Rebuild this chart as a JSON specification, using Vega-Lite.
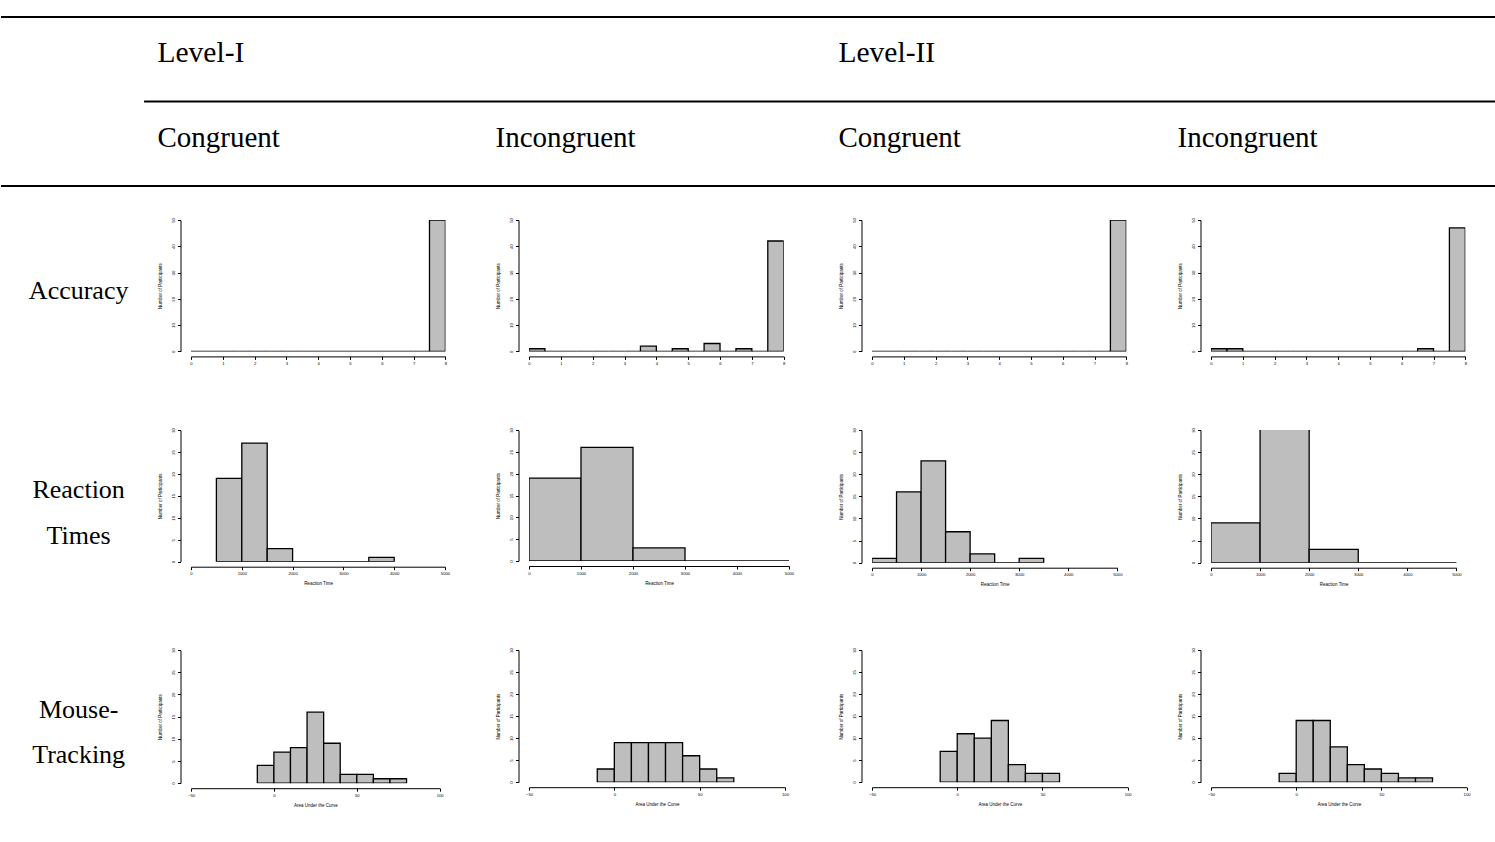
{
  "$schema": "https://vega.github.io/schema/vega-lite/v6.json",
  "background": "white",
  "padding": {"left": 0, "top": 16, "right": 0, "bottom": 0},
  "autosize": {"type": "pad"},
  "columns": 5,
  "bounds": "flush",
  "spacing": {"row": 0, "column": 83},
  "config": {
    "view": {"stroke": null},
    "axis": {"grid": false, "domainColor": "black", "tickColor": "black", "labelColor": "black", "titleColor": "black", "labelFont": "Liberation Sans", "titleFont": "Liberation Sans", "labelFontSize": 4.2, "titleFontSize": 4.5, "titleFontWeight": "normal", "tickSize": 3, "domainWidth": 1, "tickWidth": 1, "labelFlush": false, "labelOverlap": false},
    "axisX": {"offset": 5, "labelPadding": 2, "titlePadding": 5, "labelAngle": 0},
    "axisY": {"offset": 10.5, "labelAngle": 270, "labelAlign": "center", "labelBaseline": "bottom", "labelPadding": 2, "titlePadding": 9}
  },
  "datasets": {
    "acc_l1_con": [
      {"from": 0, "to": 0.5, "count": 0}, {"from": 0.5, "to": 1, "count": 0}, {"from": 1, "to": 1.5, "count": 0}, {"from": 1.5, "to": 2, "count": 0},
      {"from": 2, "to": 2.5, "count": 0}, {"from": 2.5, "to": 3, "count": 0}, {"from": 3, "to": 3.5, "count": 0}, {"from": 3.5, "to": 4, "count": 0},
      {"from": 4, "to": 4.5, "count": 0}, {"from": 4.5, "to": 5, "count": 0}, {"from": 5, "to": 5.5, "count": 0}, {"from": 5.5, "to": 6, "count": 0},
      {"from": 6, "to": 6.5, "count": 0}, {"from": 6.5, "to": 7, "count": 0}, {"from": 7, "to": 7.5, "count": 0}, {"from": 7.5, "to": 8, "count": 50}
    ],
    "acc_l1_inc": [
      {"from": 0, "to": 0.5, "count": 1}, {"from": 0.5, "to": 1, "count": 0}, {"from": 1, "to": 1.5, "count": 0}, {"from": 1.5, "to": 2, "count": 0},
      {"from": 2, "to": 2.5, "count": 0}, {"from": 2.5, "to": 3, "count": 0}, {"from": 3, "to": 3.5, "count": 0}, {"from": 3.5, "to": 4, "count": 2},
      {"from": 4, "to": 4.5, "count": 0}, {"from": 4.5, "to": 5, "count": 1}, {"from": 5, "to": 5.5, "count": 0}, {"from": 5.5, "to": 6, "count": 3},
      {"from": 6, "to": 6.5, "count": 0}, {"from": 6.5, "to": 7, "count": 1}, {"from": 7, "to": 7.5, "count": 0}, {"from": 7.5, "to": 8, "count": 42}
    ],
    "acc_l2_con": [
      {"from": 0, "to": 0.5, "count": 0}, {"from": 0.5, "to": 1, "count": 0}, {"from": 1, "to": 1.5, "count": 0}, {"from": 1.5, "to": 2, "count": 0},
      {"from": 2, "to": 2.5, "count": 0}, {"from": 2.5, "to": 3, "count": 0}, {"from": 3, "to": 3.5, "count": 0}, {"from": 3.5, "to": 4, "count": 0},
      {"from": 4, "to": 4.5, "count": 0}, {"from": 4.5, "to": 5, "count": 0}, {"from": 5, "to": 5.5, "count": 0}, {"from": 5.5, "to": 6, "count": 0},
      {"from": 6, "to": 6.5, "count": 0}, {"from": 6.5, "to": 7, "count": 0}, {"from": 7, "to": 7.5, "count": 0}, {"from": 7.5, "to": 8, "count": 50}
    ],
    "acc_l2_inc": [
      {"from": 0, "to": 0.5, "count": 1}, {"from": 0.5, "to": 1, "count": 1}, {"from": 1, "to": 1.5, "count": 0}, {"from": 1.5, "to": 2, "count": 0},
      {"from": 2, "to": 2.5, "count": 0}, {"from": 2.5, "to": 3, "count": 0}, {"from": 3, "to": 3.5, "count": 0}, {"from": 3.5, "to": 4, "count": 0},
      {"from": 4, "to": 4.5, "count": 0}, {"from": 4.5, "to": 5, "count": 0}, {"from": 5, "to": 5.5, "count": 0}, {"from": 5.5, "to": 6, "count": 0},
      {"from": 6, "to": 6.5, "count": 0}, {"from": 6.5, "to": 7, "count": 1}, {"from": 7, "to": 7.5, "count": 0}, {"from": 7.5, "to": 8, "count": 47}
    ],
    "rt_l1_con": [
      {"from": 500, "to": 1000, "count": 19}, {"from": 1000, "to": 1500, "count": 27}, {"from": 1500, "to": 2000, "count": 3},
      {"from": 2000, "to": 2500, "count": 0}, {"from": 2500, "to": 3000, "count": 0}, {"from": 3000, "to": 3500, "count": 0}, {"from": 3500, "to": 4000, "count": 1}
    ],
    "rt_l1_inc": [
      {"from": 0, "to": 1000, "count": 19}, {"from": 1000, "to": 2000, "count": 26}, {"from": 2000, "to": 3000, "count": 3},
      {"from": 3000, "to": 4000, "count": 0}, {"from": 4000, "to": 5000, "count": 0}, {"from": 5000, "to": 6000, "count": 0}
    ],
    "rt_l2_con": [
      {"from": 0, "to": 500, "count": 1}, {"from": 500, "to": 1000, "count": 16}, {"from": 1000, "to": 1500, "count": 23},
      {"from": 1500, "to": 2000, "count": 7}, {"from": 2000, "to": 2500, "count": 2}, {"from": 2500, "to": 3000, "count": 0}, {"from": 3000, "to": 3500, "count": 1}
    ],
    "rt_l2_inc": [
      {"from": 0, "to": 1000, "count": 9}, {"from": 1000, "to": 2000, "count": 38}, {"from": 2000, "to": 3000, "count": 3},
      {"from": 3000, "to": 4000, "count": 0}, {"from": 4000, "to": 5000, "count": 0}, {"from": 5000, "to": 6000, "count": 0}
    ],
    "mt_l1_con": [
      {"from": -10, "to": 0, "count": 4}, {"from": 0, "to": 10, "count": 7}, {"from": 10, "to": 20, "count": 8}, {"from": 20, "to": 30, "count": 16},
      {"from": 30, "to": 40, "count": 9}, {"from": 40, "to": 50, "count": 2}, {"from": 50, "to": 60, "count": 2}, {"from": 60, "to": 70, "count": 1}, {"from": 70, "to": 80, "count": 1}
    ],
    "mt_l1_inc": [
      {"from": -10, "to": 0, "count": 3}, {"from": 0, "to": 10, "count": 9}, {"from": 10, "to": 20, "count": 9}, {"from": 20, "to": 30, "count": 9},
      {"from": 30, "to": 40, "count": 9}, {"from": 40, "to": 50, "count": 6}, {"from": 50, "to": 60, "count": 3}, {"from": 60, "to": 70, "count": 1}
    ],
    "mt_l2_con": [
      {"from": -10, "to": 0, "count": 7}, {"from": 0, "to": 10, "count": 11}, {"from": 10, "to": 20, "count": 10}, {"from": 20, "to": 30, "count": 14},
      {"from": 30, "to": 40, "count": 4}, {"from": 40, "to": 50, "count": 2}, {"from": 50, "to": 60, "count": 2}
    ],
    "mt_l2_inc": [
      {"from": -10, "to": 0, "count": 2}, {"from": 0, "to": 10, "count": 14}, {"from": 10, "to": 20, "count": 14}, {"from": 20, "to": 30, "count": 8},
      {"from": 30, "to": 40, "count": 4}, {"from": 40, "to": 50, "count": 3}, {"from": 50, "to": 60, "count": 2}, {"from": 60, "to": 70, "count": 1}, {"from": 70, "to": 80, "count": 1}
    ]
  },
  "concat": [
    {
      "width": 106.3, "height": 84,
      "data": {"values": [{}]},
      "layer": [
        {"mark": {"type": "rule", "stroke": "black", "strokeWidth": 2},
         "encoding": {"x": {"datum": 0, "type": "quantitative", "scale": {"domain": [0, 1], "range": [0, 1495]}, "axis": null}, "x2": {"datum": 1},
                      "y": {"datum": 0, "type": "quantitative", "scale": {"domain": [0, 2], "range": [0, 169]}, "axis": null}}},
        {"mark": {"type": "rule", "stroke": "black", "strokeWidth": 2},
         "encoding": {"x": {"datum": 0.0957, "type": "quantitative"}, "x2": {"datum": 1}, "y": {"datum": 1, "type": "quantitative"}}},
        {"mark": {"type": "rule", "stroke": "black", "strokeWidth": 2},
         "encoding": {"x": {"datum": 0, "type": "quantitative"}, "x2": {"datum": 1}, "y": {"datum": 2, "type": "quantitative"}}}
      ]
    },
    {"width": 1, "height": 1, "data": {"values": [{"label": "Level-I"}]},
     "mark": {"type": "text", "font": "Liberation Serif", "fontSize": 29.5, "align": "left", "baseline": "alphabetic", "dx": -34, "dy": 44},
     "encoding": {"text": {"field": "label"}}},
    {"width": 1, "height": 1, "data": {"values": [{"label": ""}]},
     "mark": {"type": "text", "fontSize": 1},
     "encoding": {"text": {"field": "label"}}},
    {"width": 1, "height": 1, "data": {"values": [{"label": "Level-II"}]},
     "mark": {"type": "text", "font": "Liberation Serif", "fontSize": 29.5, "align": "left", "baseline": "alphabetic", "dx": -34, "dy": 44},
     "encoding": {"text": {"field": "label"}}},
    {"width": 1, "height": 1, "data": {"values": [{"label": ""}]},
     "mark": {"type": "text", "fontSize": 1},
     "encoding": {"text": {"field": "label"}}},

    {"width": 106.3, "height": 118.3, "data": {"values": [{"label": ""}]},
     "mark": {"type": "text", "fontSize": 1},
     "encoding": {"text": {"field": "label"}}},
    {"width": 1, "height": 1, "data": {"values": [{"label": "Congruent"}]},
     "mark": {"type": "text", "font": "Liberation Serif", "fontSize": 29, "align": "left", "baseline": "alphabetic", "dx": -34, "dy": 45},
     "encoding": {"text": {"field": "label"}}},
    {"width": 1, "height": 1, "data": {"values": [{"label": "Incongruent"}]},
     "mark": {"type": "text", "font": "Liberation Serif", "fontSize": 29, "align": "left", "baseline": "alphabetic", "dx": -34, "dy": 45},
     "encoding": {"text": {"field": "label"}}},
    {"width": 1, "height": 1, "data": {"values": [{"label": "Congruent"}]},
     "mark": {"type": "text", "font": "Liberation Serif", "fontSize": 29, "align": "left", "baseline": "alphabetic", "dx": -34, "dy": 45},
     "encoding": {"text": {"field": "label"}}},
    {"width": 1, "height": 1, "data": {"values": [{"label": "Incongruent"}]},
     "mark": {"type": "text", "font": "Liberation Serif", "fontSize": 29, "align": "left", "baseline": "alphabetic", "dx": -34, "dy": 45},
     "encoding": {"text": {"field": "label"}}},

    {"width": 106.3, "height": 209.7, "data": {"values": [{"label": "Accuracy"}]},
     "mark": {"type": "text", "font": "Liberation Serif", "fontSize": 26, "align": "center", "baseline": "alphabetic", "dx": 24.5, "dy": -25.6},
     "encoding": {"text": {"field": "label"}}},
    {"width": 254.4, "height": 131.4, "data": {"name": "acc_l1_con"},
     "mark": {"type": "rect", "fill": "#bebebe", "stroke": "black", "strokeWidth": 1.3, "clip": true},
     "encoding": {
       "x": {"field": "from", "type": "quantitative", "scale": {"domain": [0, 8], "nice": false, "zero": false}, "axis": {"values": [0, 1, 2, 3, 4, 5, 6, 7, 8], "title": null, "format": "d"}},
       "x2": {"field": "to"},
       "y": {"field": "count", "type": "quantitative", "scale": {"domain": [0, 50], "nice": false}, "axis": {"values": [0, 10, 20, 30, 40, 50], "title": "Number of Participants", "format": "d"}},
       "y2": {"datum": 0}}},
    {"width": 254.7, "height": 131.4, "data": {"name": "acc_l1_inc"},
     "mark": {"type": "rect", "fill": "#bebebe", "stroke": "black", "strokeWidth": 1.3, "clip": true},
     "encoding": {
       "x": {"field": "from", "type": "quantitative", "scale": {"domain": [0, 8], "nice": false, "zero": false}, "axis": {"values": [0, 1, 2, 3, 4, 5, 6, 7, 8], "title": null, "format": "d"}},
       "x2": {"field": "to"},
       "y": {"field": "count", "type": "quantitative", "scale": {"domain": [0, 50], "nice": false}, "axis": {"values": [0, 10, 20, 30, 40, 50], "title": "Number of Participants", "format": "d"}},
       "y2": {"datum": 0}}},
    {"width": 254.3, "height": 131.4, "data": {"name": "acc_l2_con"},
     "mark": {"type": "rect", "fill": "#bebebe", "stroke": "black", "strokeWidth": 1.3, "clip": true},
     "encoding": {
       "x": {"field": "from", "type": "quantitative", "scale": {"domain": [0, 8], "nice": false, "zero": false}, "axis": {"values": [0, 1, 2, 3, 4, 5, 6, 7, 8], "title": null, "format": "d"}},
       "x2": {"field": "to"},
       "y": {"field": "count", "type": "quantitative", "scale": {"domain": [0, 50], "nice": false}, "axis": {"values": [0, 10, 20, 30, 40, 50], "title": "Number of Participants", "format": "d"}},
       "y2": {"datum": 0}}},
    {"width": 254.3, "height": 131.4, "data": {"name": "acc_l2_inc"},
     "mark": {"type": "rect", "fill": "#bebebe", "stroke": "black", "strokeWidth": 1.3, "clip": true},
     "encoding": {
       "x": {"field": "from", "type": "quantitative", "scale": {"domain": [0, 8], "nice": false, "zero": false}, "axis": {"values": [0, 1, 2, 3, 4, 5, 6, 7, 8], "title": null, "format": "d"}},
       "x2": {"field": "to"},
       "y": {"field": "count", "type": "quantitative", "scale": {"domain": [0, 50], "nice": false}, "axis": {"values": [0, 10, 20, 30, 40, 50], "title": "Number of Participants", "format": "d"}},
       "y2": {"datum": 0}}},

    {"width": 106.3, "height": 219.5, "data": {"values": [{"label": "Reaction\nTimes"}]},
     "mark": {"type": "text", "font": "Liberation Serif", "fontSize": 26, "align": "center", "baseline": "alphabetic", "dx": 24.5, "dy": -42.25, "lineBreak": "\n", "lineHeight": 46},
     "encoding": {"text": {"field": "label"}}},
    {"width": 254, "height": 131.7, "data": {"name": "rt_l1_con"},
     "mark": {"type": "rect", "fill": "#bebebe", "stroke": "black", "strokeWidth": 1.3, "clip": true},
     "encoding": {
       "x": {"field": "from", "type": "quantitative", "scale": {"domain": [0, 5000], "nice": false, "zero": false}, "axis": {"values": [0, 1000, 2000, 3000, 4000, 5000], "title": "Reaction Time", "format": "d"}},
       "x2": {"field": "to"},
       "y": {"field": "count", "type": "quantitative", "scale": {"domain": [0, 30], "nice": false}, "axis": {"values": [0, 5, 10, 15, 20, 25, 30], "title": "Number of Participants", "format": "d"}},
       "y2": {"datum": 0}}},
    {"width": 260, "height": 131, "data": {"name": "rt_l1_inc"},
     "mark": {"type": "rect", "fill": "#bebebe", "stroke": "black", "strokeWidth": 1.3, "clip": true},
     "encoding": {
       "x": {"field": "from", "type": "quantitative", "scale": {"domain": [0, 5000], "nice": false, "zero": false}, "axis": {"values": [0, 1000, 2000, 3000, 4000, 5000], "title": "Reaction Time", "format": "d"}},
       "x2": {"field": "to"},
       "y": {"field": "count", "type": "quantitative", "scale": {"domain": [0, 30], "nice": false}, "axis": {"values": [0, 5, 10, 15, 20, 25, 30], "title": "Number of Participants", "format": "d"}},
       "y2": {"datum": 0}}},
    {"width": 245.3, "height": 132.7, "data": {"name": "rt_l2_con"},
     "mark": {"type": "rect", "fill": "#bebebe", "stroke": "black", "strokeWidth": 1.3, "clip": true},
     "encoding": {
       "x": {"field": "from", "type": "quantitative", "scale": {"domain": [0, 5000], "nice": false, "zero": false}, "axis": {"values": [0, 1000, 2000, 3000, 4000, 5000], "title": "Reaction Time", "format": "d"}},
       "x2": {"field": "to"},
       "y": {"field": "count", "type": "quantitative", "scale": {"domain": [0, 30], "nice": false}, "axis": {"values": [0, 5, 10, 15, 20, 25, 30], "title": "Number of Participants", "format": "d"}},
       "y2": {"datum": 0}}},
    {"width": 245.4, "height": 132.7, "data": {"name": "rt_l2_inc"},
     "mark": {"type": "rect", "fill": "#bebebe", "stroke": "black", "strokeWidth": 1.3, "clip": true},
     "encoding": {
       "x": {"field": "from", "type": "quantitative", "scale": {"domain": [0, 5000], "nice": false, "zero": false}, "axis": {"values": [0, 1000, 2000, 3000, 4000, 5000], "title": "Reaction Time", "format": "d"}},
       "x2": {"field": "to"},
       "y": {"field": "count", "type": "quantitative", "scale": {"domain": [0, 30], "nice": false}, "axis": {"values": [0, 5, 10, 15, 20, 25, 30], "title": "Number of Participants", "format": "d"}},
       "y2": {"datum": 0}}},

    {"width": 106.3, "height": 150, "data": {"values": [{"label": "Mouse-\nTracking"}]},
     "mark": {"type": "text", "font": "Liberation Serif", "fontSize": 26, "align": "center", "baseline": "alphabetic", "dx": 24.5, "dy": -7, "lineBreak": "\n", "lineHeight": 45},
     "encoding": {"text": {"field": "label"}}},
    {"width": 248.7, "height": 133.2, "data": {"name": "mt_l1_con"},
     "mark": {"type": "rect", "fill": "#bebebe", "stroke": "black", "strokeWidth": 1.3, "clip": true},
     "encoding": {
       "x": {"field": "from", "type": "quantitative", "scale": {"domain": [-50, 100], "nice": false, "zero": false}, "axis": {"values": [-50, 0, 50, 100], "title": "Area Under the Curve", "format": "d"}},
       "x2": {"field": "to"},
       "y": {"field": "count", "type": "quantitative", "scale": {"domain": [0, 30], "nice": false}, "axis": {"values": [0, 5, 10, 15, 20, 25, 30], "title": "Number of Participants", "format": "d"}},
       "y2": {"datum": 0}}},
    {"width": 256, "height": 132.2, "data": {"name": "mt_l1_inc"},
     "mark": {"type": "rect", "fill": "#bebebe", "stroke": "black", "strokeWidth": 1.3, "clip": true},
     "encoding": {
       "x": {"field": "from", "type": "quantitative", "scale": {"domain": [-50, 100], "nice": false, "zero": false}, "axis": {"values": [-50, 0, 50, 100], "title": "Area Under the Curve", "format": "d"}},
       "x2": {"field": "to"},
       "y": {"field": "count", "type": "quantitative", "scale": {"domain": [0, 30], "nice": false}, "axis": {"values": [0, 5, 10, 15, 20, 25, 30], "title": "Number of Participants", "format": "d"}},
       "y2": {"datum": 0}}},
    {"width": 255.7, "height": 132.2, "data": {"name": "mt_l2_con"},
     "mark": {"type": "rect", "fill": "#bebebe", "stroke": "black", "strokeWidth": 1.3, "clip": true},
     "encoding": {
       "x": {"field": "from", "type": "quantitative", "scale": {"domain": [-50, 100], "nice": false, "zero": false}, "axis": {"values": [-50, 0, 50, 100], "title": "Area Under the Curve", "format": "d"}},
       "x2": {"field": "to"},
       "y": {"field": "count", "type": "quantitative", "scale": {"domain": [0, 30], "nice": false}, "axis": {"values": [0, 5, 10, 15, 20, 25, 30], "title": "Number of Participants", "format": "d"}},
       "y2": {"datum": 0}}},
    {"width": 255.6, "height": 132.2, "data": {"name": "mt_l2_inc"},
     "mark": {"type": "rect", "fill": "#bebebe", "stroke": "black", "strokeWidth": 1.3, "clip": true},
     "encoding": {
       "x": {"field": "from", "type": "quantitative", "scale": {"domain": [-50, 100], "nice": false, "zero": false}, "axis": {"values": [-50, 0, 50, 100], "title": "Area Under the Curve", "format": "d"}},
       "x2": {"field": "to"},
       "y": {"field": "count", "type": "quantitative", "scale": {"domain": [0, 30], "nice": false}, "axis": {"values": [0, 5, 10, 15, 20, 25, 30], "title": "Number of Participants", "format": "d"}},
       "y2": {"datum": 0}}}
  ]
}
